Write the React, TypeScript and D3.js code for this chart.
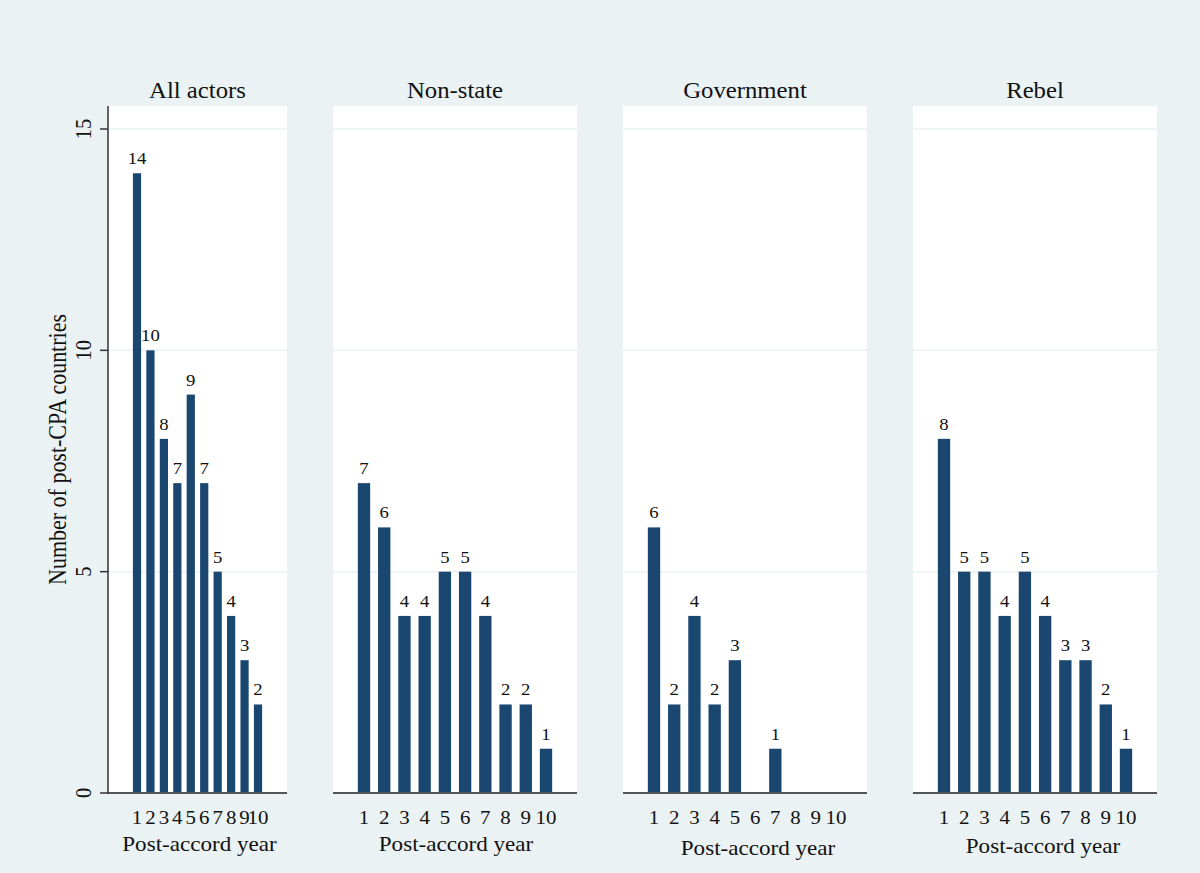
import React, { useEffect, useRef } from "react";
import * as d3 from "d3";

// Post-accord year on the x axis
const years = [1, 2, 3, 4, 5, 6, 7, 8, 9, 10];

// Number of post-CPA countries per panel (null = no bar)
const allActors: (number | null)[] = [14, 10, 8, 7, 9, 7, 5, 4, 3, 2];
const nonState: (number | null)[] = [7, 6, 4, 4, 5, 5, 4, 2, 2, 1];
const government: (number | null)[] = [6, 2, 4, 2, 3, null, 1, null, null, null];
const rebel: (number | null)[] = [8, 5, 5, 4, 5, 4, 3, 3, 2, 1];

const panelTitles = ["All actors", "Non-state", "Government", "Rebel"];
const yTicks = [0, 5, 10, 15];
const xTitle = "Post-accord year";
const yTitle = "Number of post-CPA countries";

const series = [allActors, nonState, government, rebel];

const W = 1200;
const H = 873;
const FONT = "'Liberation Serif', 'Times New Roman', serif";
const BG = "#eaf2f3";
const BAR = "#1a476f";
const SX = 1.1; // the picture is a little wider than tall

export default function App() {
  const svgRef = useRef<SVGSVGElement>(null);

  useEffect(() => {
    const svg = d3.select(svgRef.current);
    svg.selectAll("*").remove();
    svg.attr("width", W).attr("height", H);

    svg.append("rect").attr("width", W).attr("height", H).attr("fill", BG);

    // panel boxes
    const panels = [
      { x0: 108, x1: 287, pad: 29, tdx: 2, tby: 851 },
      { x0: 333, x1: 577, pad: 31, tdx: 1, tby: 851 },
      { x0: 623, x1: 867, pad: 31, tdx: 13, tby: 855 },
      { x0: 913, x1: 1157, pad: 31, tdx: 8, tby: 853 },
    ];
    const plotTop = 106;
    const y = d3.scaleLinear().domain([0, 15]).range([793, 129]);

    const stretchText = (
      g: d3.Selection<SVGGElement, unknown, null, undefined>,
      x: number,
      yy: number,
      txt: string,
      size: number,
      rotate = false
    ) =>
      g
        .append("text")
        .attr(
          "transform",
          `translate(${x},${yy}) scale(${SX},1)${rotate ? " rotate(-90)" : ""}`
        )
        .attr("text-anchor", "middle")
        .attr("font-family", FONT)
        .attr("font-size", size)
        .attr("fill", "#111")
        .text(txt);

    const root = svg.append("g");

    panels.forEach((p, i) => {
      const g = root.append("g");
      const x = d3
        .scaleLinear()
        .domain([1, 10])
        .range([p.x0 + p.pad, p.x1 - p.pad]);
      const step = x(2) - x(1);
      const bw = step * 0.61;

      // plot region
      g.append("rect")
        .attr("x", p.x0)
        .attr("y", plotTop)
        .attr("width", p.x1 - p.x0)
        .attr("height", y(0) - plotTop)
        .attr("fill", "#fff");

      // gridlines
      g.selectAll("line.grid")
        .data(yTicks.filter((t) => t > 0))
        .join("line")
        .attr("class", "grid")
        .attr("x1", p.x0)
        .attr("x2", p.x1)
        .attr("y1", (d) => y(d))
        .attr("y2", (d) => y(d))
        .attr("stroke", BG)
        .attr("stroke-width", 1.5);

      const data = years
        .map((yr, k) => ({ yr, v: series[i][k] }))
        .filter((d) => d.v !== null) as { yr: number; v: number }[];

      g.selectAll("rect.bar")
        .data(data)
        .join("rect")
        .attr("class", "bar")
        .attr("x", (d) => x(d.yr) - bw / 2)
        .attr("width", bw)
        .attr("y", (d) => y(d.v))
        .attr("height", (d) => y(0) - y(d.v))
        .attr("fill", BAR);

      data.forEach((d) => stretchText(g, x(d.yr), y(d.v) - 9, String(d.v), 17));

      // x axis line
      g.append("line")
        .attr("x1", p.x0)
        .attr("x2", p.x1)
        .attr("y1", y(0))
        .attr("y2", y(0))
        .attr("stroke", "#555")
        .attr("stroke-width", 2);

      years.forEach((yr) => stretchText(g, x(yr), 824, String(yr), 19));

      stretchText(g, (p.x0 + p.x1) / 2, 98, panelTitles[i], 22.5);
      stretchText(g, (p.x0 + p.x1) / 2 + p.tdx, p.tby, xTitle, 21);
    });

    // y axis
    const ax = panels[0].x0;
    root
      .append("line")
      .attr("x1", ax)
      .attr("x2", ax)
      .attr("y1", plotTop)
      .attr("y2", y(0) + 1)
      .attr("stroke", "#333")
      .attr("stroke-width", 1.5);
    root
      .selectAll("line.ytick")
      .data(yTicks)
      .join("line")
      .attr("class", "ytick")
      .attr("x1", ax - 8)
      .attr("x2", ax)
      .attr("y1", (d) => y(d))
      .attr("y2", (d) => y(d))
      .attr("stroke", "#333")
      .attr("stroke-width", 1.5);
    yTicks.forEach((t) => stretchText(root, 91, y(t), String(t), 20.5, true));
    stretchText(root, 66, (plotTop + y(0)) / 2, yTitle, 22, true);
  }, []);

  return (
    <>
      <style>{`body{margin:0}`}</style>
      <svg ref={svgRef} style={{ display: "block" }}></svg>
    </>
  );
}
